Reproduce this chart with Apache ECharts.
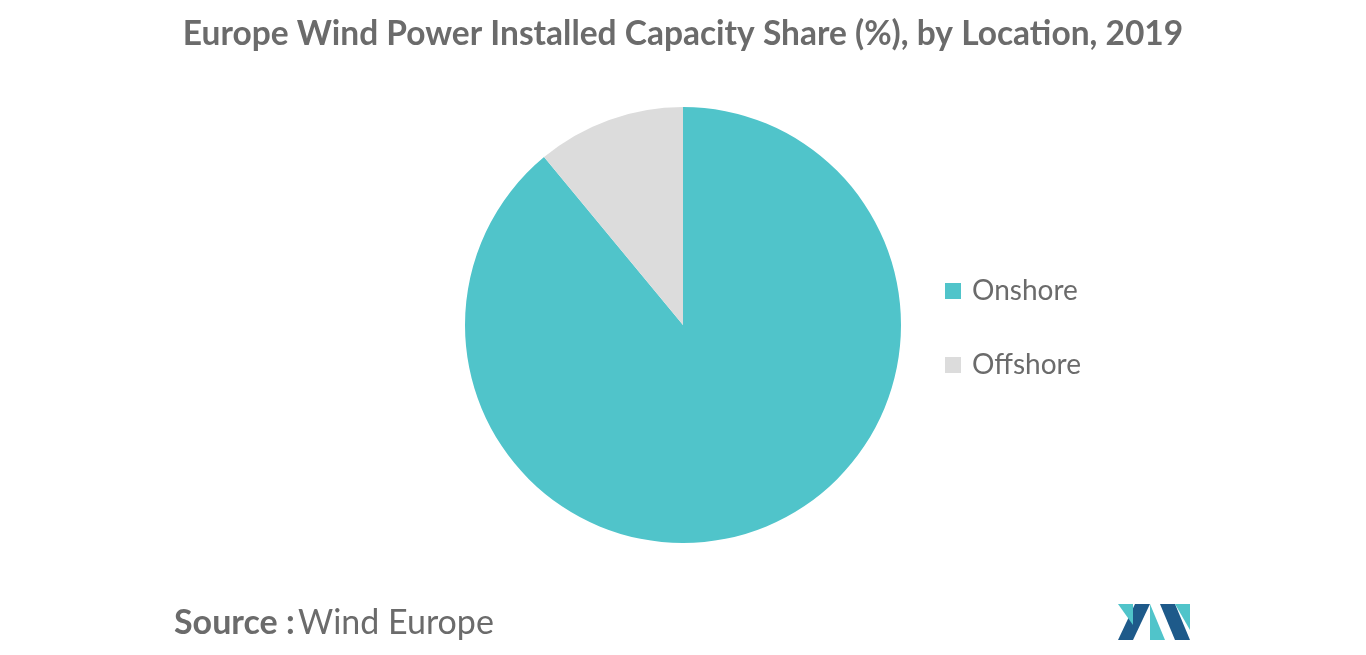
<!DOCTYPE html>
<html><head><meta charset="utf-8">
<script src="https://cdn.jsdelivr.net/npm/echarts@6/dist/echarts.min.js"></script>
<style>html,body{margin:0;padding:0;background:#fff}#c{width:1366px;height:655px}</style>
</head><body><div id="c"></div>
<script>
const categories = ["Onshore", "Offshore"];
const shares = [89, 11];
const colors = ["#50C4CA", "#DCDCDC"];
const chart = echarts.init(document.getElementById('c'));
chart.setOption({
  animation: false,
  title: {
    text: "Europe Wind Power Installed Capacity Share (%), by Location, 2019",
    left: 'center', top: 12,
    textStyle: { fontFamily: 'Lato', fontSize: 33.5, fontWeight: 'bold', color: '#6b6b6b' }
  },
  legend: {
    orient: 'vertical', left: 940, top: 272, itemGap: 46,
    icon: 'rect', itemWidth: 16, itemHeight: 16,
    textStyle: { fontFamily: 'Lato', fontSize: 28, color: '#6b6b6b', padding: [0,0,0,6] },
    data: categories
  },
  series: [{
    type: 'pie', center: [683, 325], radius: 218, startAngle: 90, clockwise: true,
    label: { show: false }, labelLine: { show: false },
    itemStyle: { borderWidth: 0 },
    emphasis: { disabled: true },
    data: categories.map((n, i) => ({ name: n, value: shares[i], itemStyle: { color: colors[i] } }))
  }],
  graphic: [
    { type: 'text', left: 174, top: 606, style: { rich: { b: { fontFamily: 'Lato', fontSize: 34, fontWeight: 'bold', fill: '#6b6b6b' }, n: { fontFamily: 'Lato', fontSize: 34, fill: '#6b6b6b' } }, text: '{b|Source :} {n|Wind Europe}' } },
    { type: 'polygon', shape: { points: [[1118,640],[1135,604],[1150,604],[1133,640]] }, style: { fill: '#1E5A8A' } },
    { type: 'polygon', shape: { points: [[1118,604],[1133,604],[1133,625]] }, style: { fill: '#50C4CA' } },
    { type: 'polygon', shape: { points: [[1150,604],[1165,640],[1150,640]] }, style: { fill: '#50C4CA' } },
    { type: 'polygon', shape: { points: [[1160,604],[1175,604],[1190,640],[1175,640]] }, style: { fill: '#1E5A8A' } },
    { type: 'polygon', shape: { points: [[1175,604],[1190,604],[1190,630]] }, style: { fill: '#50C4CA' } }
  ]
});
</script></body></html>
